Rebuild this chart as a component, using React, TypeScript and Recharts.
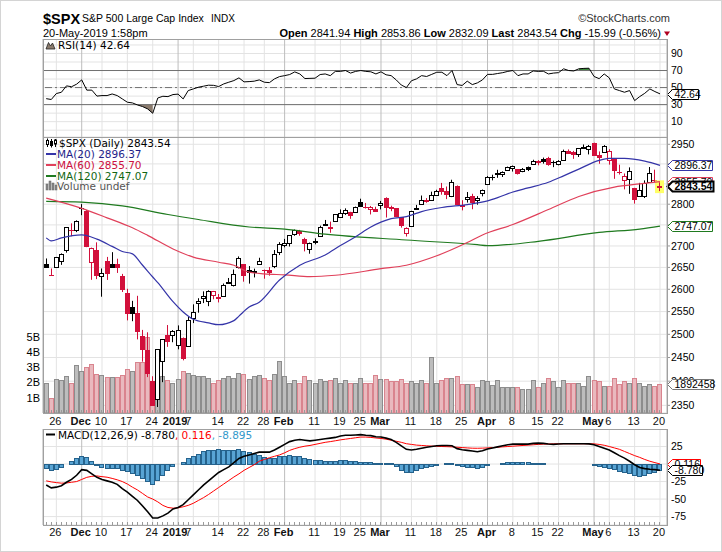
import React from "react";
import {
  ComposedChart,
  Bar,
  Line,
  Area,
  XAxis,
  YAxis,
  CartesianGrid,
  ReferenceLine,
  ReferenceDot,
} from "recharts";

// ---------- data (trading days, MM-DD; Nov/Dec 2018, Jan-May 2019) ----------
const dates = [
  "11-21","11-23","11-26","11-27","11-28","11-29","11-30",
  "12-03","12-04","12-06","12-07","12-10","12-11","12-12","12-13","12-14","12-17","12-18","12-19","12-20","12-21","12-24","12-26","12-27","12-28","12-31",
  "01-02","01-03","01-04","01-07","01-08","01-09","01-10","01-11","01-14","01-15","01-16","01-17","01-18","01-22","01-23","01-24","01-25","01-28","01-29","01-30","01-31",
  "02-01","02-04","02-05","02-06","02-07","02-08","02-11","02-12","02-13","02-14","02-15","02-19","02-20","02-21","02-22","02-25","02-26","02-27","02-28",
  "03-01","03-04","03-05","03-06","03-07","03-08","03-11","03-12","03-13","03-14","03-15","03-18","03-19","03-20","03-21","03-22","03-25","03-26","03-27","03-28","03-29",
  "04-01","04-02","04-03","04-04","04-05","04-08","04-09","04-10","04-11","04-12","04-15","04-16","04-17","04-18","04-22","04-23","04-24","04-25","04-26","04-29","04-30",
  "05-01","05-02","05-03","05-06","05-07","05-08","05-09","05-10","05-13","05-14","05-15","05-16","05-17","05-20",
];

const opens = [
  2657.74,2633.36,2649.97,2663.75,2691.45,2736.97,2737.76,
  2790.50,2782.43,2663.51,2691.26,2630.86,2664.44,2658.23,2658.70,2629.68,2590.75,2559.90,2547.05,2496.77,2465.38,2400.56,2363.12,2442.50,2498.77,2498.94,
  2476.96,2491.92,2474.33,2535.61,2568.11,2580.00,2573.51,2588.11,2580.31,2585.10,2614.75,2609.28,2651.27,2657.88,2643.48,2638.84,2657.44,2644.97,2644.89,2653.62,2685.49,
  2702.32,2706.49,2728.34,2735.05,2717.53,2692.36,2712.40,2722.61,2750.30,2743.50,2760.24,2769.28,2779.05,2780.24,2780.67,2804.35,2792.36,2787.50,2788.11,
  2798.22,2814.37,2794.41,2790.27,2768.74,2730.79,2747.61,2787.34,2799.78,2810.38,2810.79,2822.61,2840.76,2831.34,2819.72,2844.52,2796.01,2812.66,2819.72,2809.40,2828.27,
  2848.63,2868.24,2876.09,2873.99,2884.16,2888.46,2886.58,2881.37,2891.92,2900.86,2908.32,2912.26,2916.04,2904.81,2898.78,2909.99,2934.00,2928.99,2925.81,2940.58,2937.14,
  2952.33,2922.16,2929.21,2908.89,2913.03,2879.61,2859.84,2863.10,2840.19,2820.12,2820.38,2855.80,2858.60,2841.94,
];
const highs = [
  2670.73,2647.55,2674.35,2682.53,2744.00,2753.75,2760.88,
  2800.18,2785.93,2696.15,2708.54,2647.51,2674.35,2685.44,2670.19,2635.07,2601.13,2573.99,2585.29,2509.63,2504.41,2410.34,2467.76,2489.10,2520.27,2509.24,
  2519.49,2493.14,2538.07,2566.16,2579.82,2595.32,2597.82,2596.27,2589.32,2613.08,2625.76,2645.06,2675.47,2657.88,2653.19,2647.20,2672.38,2644.97,2650.93,2690.44,2708.95,
  2716.66,2724.99,2738.98,2738.08,2719.32,2708.07,2718.05,2748.19,2761.85,2757.90,2775.66,2787.33,2789.88,2781.58,2794.20,2813.49,2803.12,2795.76,2793.73,
  2808.02,2816.88,2796.44,2790.27,2768.74,2744.13,2784.00,2798.32,2821.24,2815.00,2830.73,2835.41,2852.42,2843.54,2860.31,2846.16,2809.79,2829.87,2825.56,2819.71,2836.03,
  2869.40,2872.90,2885.25,2881.28,2893.24,2895.95,2886.88,2889.71,2893.42,2910.54,2909.60,2916.06,2918.00,2908.40,2909.51,2936.31,2936.83,2933.10,2939.88,2949.52,2948.22,
  2954.13,2931.68,2947.85,2937.32,2913.03,2897.96,2875.97,2891.31,2840.19,2852.54,2858.68,2892.15,2885.48,2853.86,
];
const lows = [
  2649.82,2631.09,2649.97,2655.89,2684.38,2722.94,2732.76,
  2773.38,2697.18,2621.53,2623.14,2583.23,2621.30,2650.26,2637.27,2593.84,2530.54,2528.71,2488.96,2441.18,2408.55,2351.10,2346.58,2397.94,2472.89,2482.82,
  2467.47,2443.96,2474.33,2524.56,2547.56,2568.89,2562.02,2577.40,2570.41,2585.10,2612.68,2606.36,2647.58,2617.27,2612.86,2627.01,2657.33,2624.06,2631.05,2648.34,2678.65,
  2696.88,2698.75,2724.03,2724.15,2687.26,2681.83,2703.79,2722.61,2748.63,2731.23,2760.24,2767.29,2774.06,2764.55,2779.11,2794.99,2789.47,2775.13,2782.51,
  2787.38,2767.66,2782.97,2768.69,2743.45,2722.27,2747.61,2786.73,2799.78,2803.46,2810.79,2821.99,2823.27,2812.43,2817.38,2800.47,2785.02,2803.99,2787.72,2798.77,2819.23,
  2848.63,2858.75,2865.17,2867.14,2882.99,2880.78,2873.33,2879.13,2881.99,2898.37,2896.48,2900.71,2895.45,2891.90,2896.35,2908.53,2926.05,2912.84,2917.56,2939.35,2924.11,
  2923.36,2900.50,2929.21,2898.21,2862.60,2873.28,2836.40,2825.39,2801.43,2820.12,2815.08,2855.80,2854.23,2832.09,
];
const closes = [
  2649.93,2632.56,2673.45,2682.17,2743.79,2737.80,2760.17,
  2790.37,2700.06,2695.95,2633.08,2637.72,2636.78,2651.07,2650.54,2599.95,2545.94,2546.16,2506.96,2467.42,2416.62,2351.10,2467.70,2488.83,2485.74,2506.85,
  2510.03,2447.89,2531.94,2549.69,2574.41,2584.96,2596.64,2596.26,2582.61,2610.30,2616.10,2635.96,2670.71,2632.90,2638.70,2642.33,2664.76,2643.85,2640.00,2681.05,2704.10,
  2706.53,2724.87,2737.70,2731.61,2706.05,2707.88,2709.80,2744.73,2753.03,2745.73,2775.60,2779.76,2784.70,2774.88,2792.67,2796.11,2793.90,2792.38,2784.49,
  2803.69,2792.81,2789.65,2771.45,2748.93,2743.07,2783.30,2791.52,2810.92,2808.48,2822.48,2832.94,2832.57,2824.23,2854.88,2800.71,2798.36,2818.46,2805.37,2815.44,2834.40,
  2867.19,2867.24,2873.40,2879.39,2892.74,2895.77,2878.20,2888.21,2888.32,2907.41,2905.58,2907.06,2900.45,2905.03,2907.97,2933.68,2927.25,2926.17,2939.88,2943.03,2945.83,
  2923.73,2917.52,2945.64,2932.47,2884.05,2879.42,2870.72,2881.40,2811.87,2834.41,2850.96,2876.32,2859.53,2843.54,
];
const priorClose = 2641.89; // close of 11-20

// volume in billions
const volumesB = [
  2.0,0.96,2.23,2.16,2.43,2.0,3.15,
  2.78,3.0,3.19,2.56,2.49,2.34,2.38,2.34,2.49,2.89,2.75,3.36,3.34,5.0,1.9,2.67,2.43,2.16,1.95,
  2.23,2.75,2.6,2.49,2.43,2.43,2.27,2.0,2.16,2.27,2.43,2.27,2.6,2.56,2.23,2.43,2.49,2.27,2.16,2.56,3.41,
  2.43,2.0,2.16,2.0,2.43,2.16,1.95,2.23,2.1,2.16,2.27,2.0,2.16,1.95,2.0,2.27,2.0,2.0,2.5,
  2.23,2.23,2.1,2.1,2.23,1.95,2.1,1.95,2.16,2.0,3.65,2.0,2.16,2.27,2.27,2.43,1.88,1.88,1.88,1.73,2.16,
  2.1,1.84,2.16,1.68,1.68,1.68,1.68,1.57,1.57,2.16,1.68,2.0,2.27,2.1,1.68,2.16,2.0,2.0,2.0,1.8,2.4,
  2.16,2.1,1.8,1.8,2.27,1.88,2.1,1.95,2.27,1.95,1.8,1.88,1.8,1.89,
];

const rsiValues = [
  37,36,43,44.5,52,51,54,
  59,47,47,40,40.6,40.6,42.5,40.6,36.7,32.8,32,29.6,27.7,25,19.8,37.8,39.8,39.4,41.8,
  42.3,36.7,46.5,48.4,50.4,51.6,52.8,52.6,51.2,54.3,56.3,58.2,61.4,56.7,57,57.5,59,56.3,55.8,60.2,62.9,
  64,65.3,68.4,66,60.6,60.8,61,65.3,66,64,69,69,70,67,69,70,69,68.5,66,
  68.5,65,64,59,53,50,58,60.2,64,63,65.5,68,68,64,70,53.5,52.5,57.5,53.5,55.5,59,
  65.5,65.5,66.5,67.5,69,70,64,66,66,69.5,69,69.2,66,67,67.5,72,70,69.5,72,72.5,72.7,
  63,60.5,66,61.4,48.4,46.5,44.5,46.5,34.7,39.4,43.3,48.4,45.3,42.64,
];

const macdValues = [
  -30,-34,-33,-31,-26,-22,-16,
  -8,-9,-14,-19,-22,-24,-26,-29,-35,-40,-46,-52,-60,-68,-77,-77,-74,-70,-64,
  -62,-58,-51,-44,-37,-30,-24,-18,-12,-8,-4,2,8,11,13,15,17,17,17,20,24,
  28,32,34,35,34,33,34,35,36,37,38,40,41,41,41.5,42,41,40.5,39,
  38.5,37,35,31,26,21,20,21,22.5,24,25,26,26.5,26.5,26,22,20.5,19.5,18.5,17.5,19,
  21.5,23,24.5,26,27.5,28.4,28.4,28.4,28.4,29.5,29.9,29.5,28.5,28,28.5,29,29,29,29,29,28.8,
  27.5,25,22.5,20,16,12,8.5,4,-1,-5,-6.5,-7.5,-8,-8.78,
];
const signalValues = [
  -24,-25.5,-26.5,-27.3,-27,-26,-25,
  -22,-19,-17.5,-17,-18,-18.8,-20.5,-22.5,-25,-28.5,-33,-37,-42,-47,-50,-54,-59,-62,-63,
  -62.5,-61,-59,-56,-52,-48,-43.5,-38.5,-33.5,-28.5,-23.5,-18.5,-14,-9,-5,-1,4,6.5,9,11,13,
  16,19.5,22,24,25.5,26.5,28,29.5,31,32,33.2,34.5,35.5,36.5,37.5,38.5,38.5,38,37.2,
  36.5,35.5,34,32.5,31,29,28,27,26.5,26,25.6,25.3,25,24.8,24.5,24,23.5,23,22.6,22.5,22.7,
  23,23.5,24,24.5,25,25.5,26,26.5,27,27.5,28,28.4,28.6,28.8,28.9,28.9,28.9,28.9,28.9,28.9,28.9,
  28.8,28,26.8,25,23,21,18,15,12,9.5,6.5,4,2,0.116,
];
const histValues = [
  -6,-8,-7,-4,0.5,4,9,
  12,10,4,-2,-4,-5,-5,-6,-8,-10,-13,-16,-20,-24,-28,-23,-16,-9,-3,
  0.5,3,8,12,15,18,19.5,20.5,21,20.5,20,20.5,21,19,17,15,13,10.5,8,9,11,
  12,12.5,12,11,8.5,6.5,6,5.5,5,5,5,5.5,5.5,4.5,4,3.5,2.5,2.5,1.8,
  2,1.5,1,-3,-8,-11,-11,-9,-6,-4,-2.5,-1,0.5,1.5,1.5,-2,-3.5,-4,-4.5,-5,-4,
  -2,-0.5,0.5,1.5,2.5,3.2,3.3,2.8,2.2,2,1.8,1.2,0.2,-0.5,-0.3,0.2,0.2,0.1,0.1,0.1,0,
  -1.3,-3,-4.3,-5.5,-7.5,-9.5,-11,-13,-15.5,-16.5,-16,-13.5,-11,-8.895,
];

// moving averages read at selected days
const ma20Points: [string, number][] = [
  ["11-21",2719],["11-23",2712],["11-27",2719],["12-03",2726],["12-07",2716],["12-12",2699],["12-14",2687],
  ["12-18",2681.5],["12-20",2655],["12-24",2628],["12-26",2615],["12-31",2572],["01-03",2549],["01-07",2533],
  ["01-10",2525],["01-14",2521],["01-17",2530],["01-18",2540],["01-23",2560],["01-25",2571],["01-31",2621],
  ["02-06",2655],["02-13",2679],["02-19",2701],["02-22",2722],["02-27",2745],["03-05",2765],["03-08",2770],
  ["03-13",2782],["03-19",2792],["03-26",2799],["04-01",2808],["04-03",2816],["04-08",2830],["04-11",2840],
  ["04-17",2854],["04-23",2870],["04-26",2887],["05-02",2909],["05-06",2914],["05-09",2914],["05-15",2907],["05-20",2896.37],
];
const ma60Points: [string, number][] = [
  ["11-21",2815],["12-03",2790],["12-11",2767],["12-18",2743],["12-21",2725],["12-31",2693],["01-07",2674],
  ["01-14",2662],["01-17",2655],["01-23",2639],["01-28",2635],["02-01",2633],["02-08",2629],["02-15",2632],
  ["03-01",2647],["03-08",2655],["03-18",2677],["03-26",2708],["03-29",2726],["04-08",2751],["04-17",2787],
  ["04-26",2819],["05-07",2842],["05-14",2850],["05-20",2855.7],
];
const ma120Points: [string, number][] = [
  ["11-21",2807],["12-03",2805],["12-14",2796],["12-28",2775],["01-08",2763],["01-23",2745],["02-01",2740],
  ["02-13",2728],["03-08",2714],["03-28",2703],["04-01",2701],["04-03",2701.5],["04-15",2711],["05-02",2732],
  ["05-14",2740],["05-20",2747.07],
];

const tickDates = ["11-26","12-03","12-10","12-17","12-24","01-02","01-07","01-14","01-22","01-28","02-01","02-11","02-19","02-25","03-01","03-11","03-18","03-25","04-01","04-08","04-15","04-22","05-01","05-06","05-13","05-20"];
const tickLabels = ["26","Dec","10","17","24","2019","7","14","22","28","Feb","11","19","25","Mar","11","18","25","Apr","8","15","22","May","6","13","20"];
const boldLabels = ["Dec","2019","Feb","Mar","Apr","May"];

const headerStats: [string, string][] = [["Open","2841.94"],["High","2853.86"],["Low","2832.09"],["Last","2843.54"],["Chg","-15.99 (-0.56%)"]];

const priceTicks = [2350,2400,2450,2500,2550,2600,2650,2700,2750,2800,2850,2900,2950];
const volTicks = [1e9,2e9,3e9,4e9,5e9];
const rsiGrid = [0,10,20,30,40,50,60,70,80,90,100];
const rsiLabels = [10,30,50,70,90];
const macdTicks = [-75,-50,-25,0,25];

// ---------- derived table ----------
const anchor = dates.indexOf("12-03");
const n = dates.length;
const rows: any[] = dates.map((d, k) => {
  const prev = k === 0 ? priorClose : closes[k - 1];
  const r = rsiValues[k];
  return {
    x: k - anchor,
    date: d,
    open: opens[k],
    high: highs[k],
    low: lows[k],
    close: closes[k],
    range: [lows[k], highs[k]],
    down: closes[k] < prev,
    last: k === n - 1,
    vol: volumesB[k] * 1e9,
    rsi: r,
    rsiLow: r < 30 ? [r, 30] : null,
    rsiHigh: r > 70 ? [70, r] : null,
    macd: macdValues[k],
    signal: signalValues[k],
    hist: histValues[k],
    ma20: null,
    ma60: null,
    ma120: null,
  };
});
ma20Points.forEach(([d, v]) => (rows[dates.indexOf(d)].ma20 = v));
ma60Points.forEach(([d, v]) => (rows[dates.indexOf(d)].ma60 = v));
ma120Points.forEach(([d, v]) => (rows[dates.indexOf(d)].ma120 = v));

const tickX = tickDates.map((d) => dates.indexOf(d) - anchor);
const monthX = tickX.filter((_, j) => boldLabels.includes(tickLabels[j]));
const weekX = tickX.filter((_, j) => !boldLabels.includes(tickLabels[j]));
const allX = rows.map((r) => r.x);

const X_DOMAIN: [number, number] = [-7.63, 115.38];
const XR = X_DOMAIN[1] - 0.001;
const PRICE_DOMAIN: [number, number] = [2334.4, 2968.8];
const VOL_DOMAIN: [number, number] = [0, 18.1e9];
const RSI_DOMAIN: [number, number] = [-8, 107];
const MACD_DOMAIN: [number, number] = [-87, 50];

// ---------- styles ----------
const AX = "'Liberation Sans', Arial, Helvetica, sans-serif";
const LG = "'DejaVu Sans', Verdana, sans-serif";
const RED = "#d2103b";
const C_MA20 = "#3434a8";
const C_MA60 = "#e0405a";
const C_MA120 = "#1f7a1f";

// ---------- shapes ----------
const CandleShape = (p: any) => {
  const { x, y, width, height, payload } = p;
  if (!payload || x == null) return <g />;
  const cx = Math.round(x + width / 2 - 0.5) + 0.5;
  const top = Math.min(y, y + height);
  const bot = Math.max(y, y + height);
  const lh = Math.log(payload.high);
  const ll = Math.log(payload.low);
  const span = lh - ll || 1;
  const py = (v: number) => top + ((lh - Math.log(v)) / span) * (bot - top);
  const color = payload.down ? RED : "#000";
  const yo = py(payload.open);
  const yc = py(payload.close);
  const bt = Math.round(Math.min(yo, yc)) + 0.5;
  const bb = Math.round(Math.max(yo, yc)) + 0.5;
  const hollow = payload.close >= payload.open;
  return (
    <g>
      {payload.last && <rect x={cx - 4.5} y={top - 2} width={9} height={bot - top + 4} fill="#ffff66" />}
      <line x1={cx} x2={cx} y1={top} y2={bot} stroke={color} strokeWidth={1} />
      <rect x={cx - 2} y={bt} width={4} height={Math.max(bb - bt, 0.01)} fill={hollow ? "#fff" : color} stroke={color} strokeWidth={1} />
    </g>
  );
};

const VolumeShape = (p: any) => {
  const { x, y, width, height, payload } = p;
  if (!payload || x == null) return <g />;
  const left = Math.round(x + width / 2 - 2.5) + 0.5;
  const top = Math.round(Math.min(y, y + height)) + 0.5;
  const bot = Math.max(y, y + height);
  return (
    <rect x={left} y={top} width={4} height={Math.max(bot - top, 0)}
      fill={payload.down ? "#e9b9be" : "#bdbdbd"} stroke={payload.down ? "#d9848e" : "#8d8d8d"} strokeWidth={1} />
  );
};

const HistShape = (p: any) => {
  const { x, y, width, height } = p;
  if (x == null) return <g />;
  const left = Math.round(x + width / 2 - 2.5) + 0.5;
  const t = Math.round(Math.min(y, y + height)) + 0.5;
  const b = Math.round(Math.max(y, y + height)) + 0.5;
  return <rect x={left} y={t} width={4} height={Math.max(b - t, 0)} fill="#58a4d4" stroke="#25628c" strokeWidth={1} />;
};

const makeTag = (text: string, stroke: string, width: number, bold = false, sw = 1) => (p: any) => {
  const x0 = Math.round(p.cx) + 0.5;
  const y0 = Math.round(p.cy) + 0.5;
  const h = 10;
  const pts = `${x0},${y0} ${x0 + 5},${y0 - h / 2} ${x0 + width},${y0 - h / 2} ${x0 + width},${y0 + h / 2} ${x0 + 5},${y0 + h / 2}`;
  return (
    <g>
      <polygon points={pts} fill="#fff" stroke={stroke} strokeWidth={sw} />
      <text x={x0 + 7} y={y0 + 3.8} fontSize={10.5} fontWeight={bold ? "bold" : "normal"} fontFamily={AX} fill="#000">{text}</text>
    </g>
  );
};

const makeDayTick = (dy: number) => (p: any) => {
  const v = p.payload.value;
  const xr = Math.round(p.x - 0.5) + 0.5;
  const j = tickX.indexOf(v);
  const label = j >= 0 ? tickLabels[j] : null;
  const bold = label !== null && boldLabels.includes(label);
  const nudge = label === "2019" ? -3 : label === "7" ? -5 : -1;
  return (
    <g>
      <line x1={xr} x2={xr} y1={p.y - 3} y2={p.y} stroke="#9a9a9a" />
      {label && (
        <text x={p.x + nudge} y={p.y + dy} textAnchor="middle" fontSize={11} fontWeight={bold ? "bold" : "normal"} fontFamily={AX} fill="#111">
          {label}
        </text>
      )}
    </g>
  );
};

const RsiTick = (p: any) => {
  const v = p.payload.value;
  if (!rsiLabels.includes(v)) return <g />;
  return (
    <text x={p.x} y={p.y} dy={3.6} fontSize={10.5} fontFamily={AX} fill="#000">{v}</text>
  );
};

const hiddenX = (id: string, ticks?: number[]) => (
  <XAxis xAxisId={id} type="number" dataKey="x" domain={X_DOMAIN} allowDataOverflow hide ticks={ticks} interval={0} />
);
const hiddenY = (id: string, domain: [number, number], log = false) => (
  <YAxis yAxisId={id} domain={domain} allowDataOverflow hide scale={log ? "log" : "auto"} />
);

const last = rows[n - 1];
const TAG_MARGIN = { top: 0, right: 55, bottom: 0, left: 43 };

export default function App() {
  return (
    <div style={{ position: "absolute", left: 0, top: 0, width: 722, height: 552, background: "#fff", overflow: "hidden" }}>
      {/* RSI panel */}
      <div style={{ position: "absolute", left: 0, top: 39 }}>
        <ComposedChart width={722} height={98} data={rows} margin={{ top: 0, right: 0, bottom: 0, left: 43 }}>
          {hiddenX("c")}
          {hiddenX("wk", weekX)}
          {hiddenX("mo", monthX)}
          <YAxis yAxisId="r" orientation="right" width={55} domain={RSI_DOMAIN} allowDataOverflow ticks={rsiGrid} interval={0}
            tick={RsiTick} tickLine={false} axisLine={false} tickSize={3} tickMargin={1} />
          <CartesianGrid xAxisId="wk" yAxisId="r" stroke="#e3e3e3" />
          <CartesianGrid xAxisId="mo" yAxisId="r" horizontal={false} stroke="#bdbdbd" />
          <ReferenceLine xAxisId="c" yAxisId="r" y={70} stroke="#707070" />
          <ReferenceLine xAxisId="c" yAxisId="r" y={30} stroke="#707070" />
          <ReferenceLine xAxisId="c" yAxisId="r" y={50} stroke="#707070" strokeDasharray="7 3 2 3" />
          <Area xAxisId="c" yAxisId="r" dataKey="rsiLow" fill="#8b7b6d" fillOpacity={1} stroke="none" isAnimationActive={false} />
          <Area xAxisId="c" yAxisId="r" dataKey="rsiHigh" fill="#3d8a3d" fillOpacity={1} stroke="none" isAnimationActive={false} />
          <Line xAxisId="c" yAxisId="r" dataKey="rsi" stroke="#000" strokeWidth={1} dot={false} isAnimationActive={false} />
        </ComposedChart>
      </div>
      <div style={{ position: "absolute", left: 0, top: 39 }}>
        <ComposedChart width={722} height={98} data={rows} margin={TAG_MARGIN}>
          {hiddenX("c")}
          {hiddenY("r", RSI_DOMAIN)}
          <ReferenceDot xAxisId="c" yAxisId="r" x={XR} y={last.rsi} r={0} shape={makeTag("42.64", "#000", 31)} />
        </ComposedChart>
      </div>

      {/* Price panel */}
      <div style={{ position: "absolute", left: 0, top: 137 }}>
        <ComposedChart width={722} height={292} data={rows} margin={{ top: 0, right: 0, bottom: 0, left: 0 }}>
          <XAxis xAxisId="c" type="number" dataKey="x" domain={X_DOMAIN} allowDataOverflow ticks={allX} interval={0}
            tick={makeDayTick(12)} tickLine={false} axisLine={false} tickSize={0} tickMargin={0} height={16} />
          {hiddenX("v")}
          {hiddenX("wk", weekX)}
          {hiddenX("mo", monthX)}
          <YAxis yAxisId="vol" orientation="left" width={43} domain={VOL_DOMAIN} allowDataOverflow ticks={volTicks} interval={0}
            tickFormatter={(v: number) => `${Math.round(v / 1e9)}B`} tick={{ fontSize: 11, fill: "#000", fontFamily: AX }}
            tickLine={false} axisLine={false} tickSize={0} tickMargin={3} />
          <YAxis yAxisId="price" orientation="right" width={55} scale="log" domain={PRICE_DOMAIN} allowDataOverflow
            ticks={priceTicks} interval={0} tick={{ fontSize: 10.5, fill: "#000", fontFamily: AX }}
            tickLine={{ stroke: "#999" }} axisLine={false} tickSize={3} tickMargin={1} />
          <CartesianGrid xAxisId="wk" yAxisId="price" stroke="#e3e3e3" />
          <CartesianGrid xAxisId="mo" yAxisId="price" horizontal={false} stroke="#bdbdbd" />
          <Bar xAxisId="v" yAxisId="vol" dataKey="vol" barSize={5} shape={VolumeShape} isAnimationActive={false} />
          <Line xAxisId="c" yAxisId="price" dataKey="ma120" type="monotone" connectNulls stroke={C_MA120} strokeWidth={1.2} dot={false} isAnimationActive={false} />
          <Line xAxisId="c" yAxisId="price" dataKey="ma60" type="monotone" connectNulls stroke={C_MA60} strokeWidth={1.2} dot={false} isAnimationActive={false} />
          <Line xAxisId="c" yAxisId="price" dataKey="ma20" type="monotone" connectNulls stroke={C_MA20} strokeWidth={1.2} dot={false} isAnimationActive={false} />
          <Bar xAxisId="c" yAxisId="price" dataKey="range" barSize={5} shape={CandleShape} isAnimationActive={false} />
        </ComposedChart>
      </div>
      <div style={{ position: "absolute", left: 0, top: 137 }}>
        <ComposedChart width={722} height={276} data={rows} margin={TAG_MARGIN}>
          {hiddenX("c")}
          {hiddenY("vol", VOL_DOMAIN)}
          {hiddenY("price", PRICE_DOMAIN, true)}
          <ReferenceDot xAxisId="c" yAxisId="vol" x={XR} y={last.vol} r={0} shape={makeTag("1892458", "#777", 46)} />
          <ReferenceDot xAxisId="c" yAxisId="price" x={XR} y={ma60Points[ma60Points.length - 1][1]} r={0} shape={makeTag("2855.70", C_MA60, 45)} />
          <ReferenceDot xAxisId="c" yAxisId="price" x={XR} y={ma20Points[ma20Points.length - 1][1]} r={0} shape={makeTag("2896.37", C_MA20, 45)} />
          <ReferenceDot xAxisId="c" yAxisId="price" x={XR} y={ma120Points[ma120Points.length - 1][1]} r={0} shape={makeTag("2747.07", C_MA120, 45)} />
          <ReferenceDot xAxisId="c" yAxisId="price" x={XR} y={last.close} r={0} shape={makeTag("2843.54", "#000", 46, true, 2)} />
        </ComposedChart>
      </div>

      {/* MACD panel */}
      <div style={{ position: "absolute", left: 0, top: 429 }}>
        <ComposedChart width={722} height={112} data={rows} margin={{ top: 0, right: 0, bottom: 0, left: 43 }}>
          <XAxis xAxisId="c" type="number" dataKey="x" domain={X_DOMAIN} allowDataOverflow ticks={allX} interval={0}
            tick={makeDayTick(11)} tickLine={false} axisLine={false} tickSize={0} tickMargin={0} height={16} />
          {hiddenX("wk", weekX)}
          {hiddenX("mo", monthX)}
          <YAxis yAxisId="m" orientation="right" width={55} domain={MACD_DOMAIN} allowDataOverflow ticks={macdTicks} interval={0}
            tick={{ fontSize: 10.5, fill: "#000", fontFamily: AX }} tickLine={false} axisLine={false} tickSize={3} tickMargin={1} />
          <CartesianGrid xAxisId="wk" yAxisId="m" stroke="#e3e3e3" />
          <CartesianGrid xAxisId="mo" yAxisId="m" horizontal={false} stroke="#bdbdbd" />
          <Bar xAxisId="c" yAxisId="m" dataKey="hist" barSize={5} shape={HistShape} isAnimationActive={false} />
          <Line xAxisId="c" yAxisId="m" dataKey="signal" stroke="#ff0000" strokeWidth={1} dot={false} isAnimationActive={false} />
          <Line xAxisId="c" yAxisId="m" dataKey="macd" stroke="#000" strokeWidth={1.6} dot={false} isAnimationActive={false} />
        </ComposedChart>
      </div>
      <div style={{ position: "absolute", left: 0, top: 429 }}>
        <ComposedChart width={722} height={96} data={rows} margin={TAG_MARGIN}>
          {hiddenX("c")}
          {hiddenY("m", MACD_DOMAIN)}
          <ReferenceDot xAxisId="c" yAxisId="m" x={XR} y={last.signal} r={0} shape={makeTag("0.116", "#ff0000", 33)} />
          <ReferenceDot xAxisId="c" yAxisId="m" x={XR} y={last.macd} r={0} shape={makeTag("-8.780", "#000", 35)} />
        </ComposedChart>
      </div>

      {/* overlay: header, legends, frames */}
      <svg width={722} height={552} style={{ position: "absolute", left: 0, top: 0, pointerEvents: "none" }}>
        <rect x={0.5} y={0.5} width={721} height={551} fill="none" stroke="#d4d4d4" />
        <rect x={43.5} y={39.5} width={624} height={98} fill="none" stroke="#a0a0a0" />
        <rect x={43.5} y={137.5} width={624} height={276} fill="none" stroke="#a0a0a0" />
        <rect x={43.5} y={429.5} width={624} height={96} fill="none" stroke="#a0a0a0" />

        <text x={43} y={24} fontFamily={AX} fontSize={14.5} fontWeight="bold" fill="#000">$SPX</text>
        <text x={82} y={22} fontFamily={AX} fontSize={10.5} fill="#000">{"S&P 500 Large Cap Index"}</text>
        <text x={211} y={22} fontFamily={AX} fontSize={10} fill="#000">INDX</text>
        <text x={670} y={22} fontFamily={AX} fontSize={11} fill="#333" textAnchor="end">{"\u00A9StockCharts.com"}</text>
        <text x={43} y={37} fontFamily={AX} fontSize={11} fill="#000">20-May-2019 1:58pm</text>
        <text x={661} y={37} fontFamily={AX} fontSize={11} fill="#000" textAnchor="end">
          {headerStats.map(([k, v], j) => (
            <tspan key={k}>
              <tspan fontWeight="bold">{(j > 0 ? " " : "") + k}</tspan>
              {" " + v}
            </tspan>
          ))}
        </text>
        <polygon points="664,31.5 670,31.5 667,36" fill="#b00020" />

        {/* RSI legend */}
        <polygon points="46,49 48.5,42.5 50.5,46 52.5,43 55,49" fill="#8b7b6d" stroke="#222" strokeWidth={0.8} />
        <text x={58} y={49} fontFamily={LG} fontSize={10.5} fill="#000">RSI(14) 42.64</text>

        {/* price legend */}
        <g stroke="#000" strokeWidth={1}>
          <line x1={47.5} x2={47.5} y1={138.5} y2={147} />
          <rect x={46.5} y={140.5} width={2} height={4} fill="#fff" />
          <line x1={51.5} x2={51.5} y1={139} y2={147.5} />
          <rect x={50.5} y={141.5} width={2} height={4} fill="#000" />
          <line x1={55.5} x2={55.5} y1={139} y2={147} />
          <rect x={54.5} y={140} width={2} height={4} fill="#fff" />
        </g>
        <text x={59} y={147} fontFamily={LG} fontSize={10.5} fill="#000">$SPX (Daily) 2843.54</text>
        <line x1={46} x2={56} y1={154} y2={154} stroke={C_MA20} strokeWidth={2} />
        <text x={57} y={157.5} fontFamily={LG} fontSize={10.5} fill="#1e1e8a">MA(20) 2896.37</text>
        <line x1={46} x2={56} y1={165} y2={165} stroke={C_MA60} strokeWidth={2} />
        <text x={57} y={168.5} fontFamily={LG} fontSize={10.5} fill="#cc1040">MA(60) 2855.70</text>
        <line x1={46} x2={56} y1={176} y2={176} stroke={C_MA120} strokeWidth={2} />
        <text x={57} y={179.5} fontFamily={LG} fontSize={10.5} fill="#136613">MA(120) 2747.07</text>
        <g fill="#888" stroke="#666" strokeWidth={0.5}>
          <rect x={46} y={184} width={2} height={6} />
          <rect x={49} y={181} width={2} height={9} />
          <rect x={52} y={183} width={2} height={7} />
          <rect x={55} y={185} width={2} height={5} />
        </g>
        <text x={57} y={190} fontFamily={LG} fontSize={10.5} fill="#555">Volume undef</text>

        {/* MACD legend */}
        <line x1={46} x2={55} y1={434.5} y2={434.5} stroke="#000" strokeWidth={2} />
        <text x={58} y={438.5} fontFamily={LG} fontSize={10.5}>
          <tspan fill="#000">MACD(12,26,9) -8.780</tspan>
          <tspan fill="#ff0000">, 0.116</tspan>
          <tspan fill="#3399cc">, -8.895</tspan>
        </text>
      </svg>
    </div>
  );
}
